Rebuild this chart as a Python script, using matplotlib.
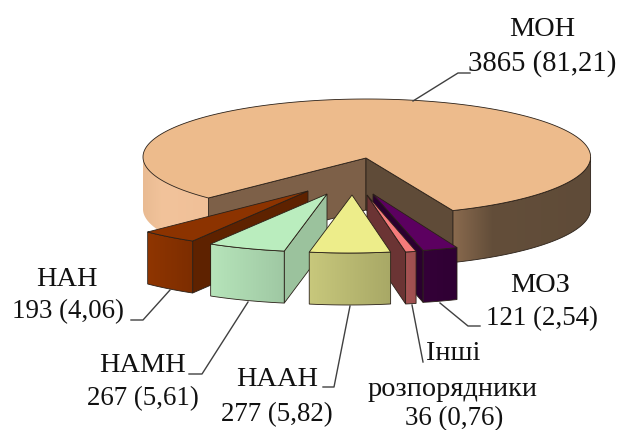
import numpy as np
import matplotlib
matplotlib.use("Agg")
import matplotlib.pyplot as plt
from matplotlib.colors import to_rgb
from matplotlib.patches import Polygon

names = ["МОЗ", "Інші розпорядники", "НААН", "НАМН", "НАН", "МОН"]
counts = [121, 36, 277, 267, 193, 3865]
shares = [2.54, 0.76, 5.82, 5.61, 4.06, 81.21]

plt.rcParams["font.family"] = ["Liberation Serif", "DejaVu Serif"]
fig = plt.figure(figsize=(6.17, 4.30), dpi=100)
ax = fig.add_axes([0, 0, 1, 1])
ax.set_xlim(0, 617)
ax.set_ylim(430, 0)
ax.axis("off")

RX, RY, DEPTH = 223.8, 58, 52
EDGE = "#2a2018"
FONT = 20.4
FONT_VALUE = 19.4

# Angles measured from the bottom of the ellipse, running clockwise on screen
total = sum(shares)
start = 22.6
bounds = [start]
for s in shares:
    bounds.append(bounds[-1] - 360 * s / total)


def rim(cx, cy, th):
    t = np.radians(th)
    return cx + RX * np.sin(t), cy + RY * np.cos(t)


def wall(cx, cy, a, b, colors, stops, z, edge=EDGE):
    """Curved outer wall between angles a < b, with a horizontal gradient."""
    ths = np.linspace(a, b, max(int((b - a) * 2), 4) + 1)
    xs, ys = rim(cx, cy, ths)
    outline = np.r_[np.c_[xs, ys], np.c_[xs, ys + DEPTH][::-1]]
    clip = Polygon(outline, fc="none", ec="none", transform=ax.transData)
    ax.add_patch(clip)
    u = np.linspace(0, 1, 128)
    rgb = np.array([to_rgb(c) for c in colors])
    grad = np.stack([np.interp(u, stops, rgb[:, k]) for k in range(3)], axis=1)[None, :, :]
    im = ax.imshow(grad, extent=(xs.min(), xs.max(), outline[:, 1].max(), outline[:, 1].min()),
                   aspect="auto", interpolation="bilinear", zorder=z)
    im.set_clip_path(clip)
    if edge is not None:
        ax.add_patch(Polygon(outline, fc="none", ec=edge, lw=0.6, zorder=z + 0.1))


def cut(tip, th, cx, cy, col, z):
    x, y = rim(cx, cy, th)
    ax.add_patch(Polygon([tip, (x, y), (x, y + DEPTH), (tip[0], tip[1] + DEPTH)],
                         fc=col, ec=EDGE, lw=0.6, zorder=z))


def top(tip, a, b, cx, cy, col, z):
    ths = np.linspace(a, b, max(int(abs(b - a) * 2), 4) + 1)
    xs, ys = rim(cx, cy, ths)
    ax.add_patch(Polygon(np.r_[[tip], np.c_[xs, ys]], fc=col, ec=EDGE, lw=0.6, zorder=z))


# Main slice: runs the long way round from the left corner to the right corner
C0 = (366.8, 157)
TIP0 = (366, 158)
a_end = bounds[5]
wall(*C0, -90, a_end, ["#e9bb92", "#f2c39b", "#f0c098"], [0, 0.3, 1], 1, edge=None)
wall(*C0, start, 90, ["#8a6a4e", "#634e3a", "#5f4b38"], [0, 0.28, 1], 1)
cut(TIP0, a_end, *C0, "#7d6048", 2)
cut(TIP0, start, *C0, "#5f4b38", 2)
top(TIP0, start, a_end + 360, *C0, "#edbb8c", 3)

# Exploded slices: index, tip, rim centre, colours (top, wall start/end, cut), z
slices = [
    (4, (308, 191), (306, 191), "#8c3300", "#8f3500", "#7c2d00", "#5e2200", 10),
    (3, (327, 194), (324, 194), "#baedbe", "#b6e4ba", "#9fc8a3", "#9bc29d", 11),
    (0, (373, 194), (371, 194), "#5c0060", "#340038", "#2f0033", "#2a002f", 12),
    (1, (367, 195), (364, 195), "#f57b7b", "#a65353", "#9c4e4e", "#6b3434", 13),
    (2, (352, 195), (349, 195), "#eded8a", "#c8c87c", "#a8a866", None, 14),
]
for i, tip, c, ctop, cf0, cf1, cside, z in slices:
    lo, hi = bounds[i + 1], bounds[i]
    if cside is not None:
        # left-hand slices show the cut on their right, right-hand ones on their left
        cut(tip, hi if i >= 3 else lo, *c, cside, z)
    wall(*c, lo, hi, [cf0, cf1], [0, 1], z + 0.2)
    top(tip, lo, hi, *c, ctop, z + 0.4)


def label(i, lines, positions, leader, value_font=FONT_VALUE):
    val = f"{counts[i]} ({shares[i]:.2f})".replace(".", ",")
    parts = lines(names[i], val)
    for text, (x, y) in zip(parts, positions):
        size = value_font if text == val else FONT
        ax.text(x, y, text, ha="center", va="center", fontsize=size, color="#111111", zorder=30)
    ax.plot(*zip(*leader), color="#404040", lw=1.0, zorder=29)


two = lambda n, v: [n, v]
label(5, two, [(542, 29), (542, 64)], [(413, 101), (458, 73), (470, 73)], value_font=20.7)
label(4, two, [(67, 280), (68, 312)], [(170, 290), (143, 320), (131, 320)])
label(3, two, [(143, 365), (143, 399)], [(248, 302), (202, 374), (189, 374)])
label(2, two, [(277, 379), (277, 415)], [(350, 306), (334, 387), (323, 387)])
label(0, two, [(540, 285), (542, 319)], [(440, 303), (468, 326), (480, 326)])
label(1, lambda n, v: n.split() + [v], [(453, 353), (453, 390), (454, 419)], [(412, 305), (423, 362)])

ax.set_xlim(0, 617)
ax.set_ylim(430, 0)
fig.savefig("out.png", dpi=100)
